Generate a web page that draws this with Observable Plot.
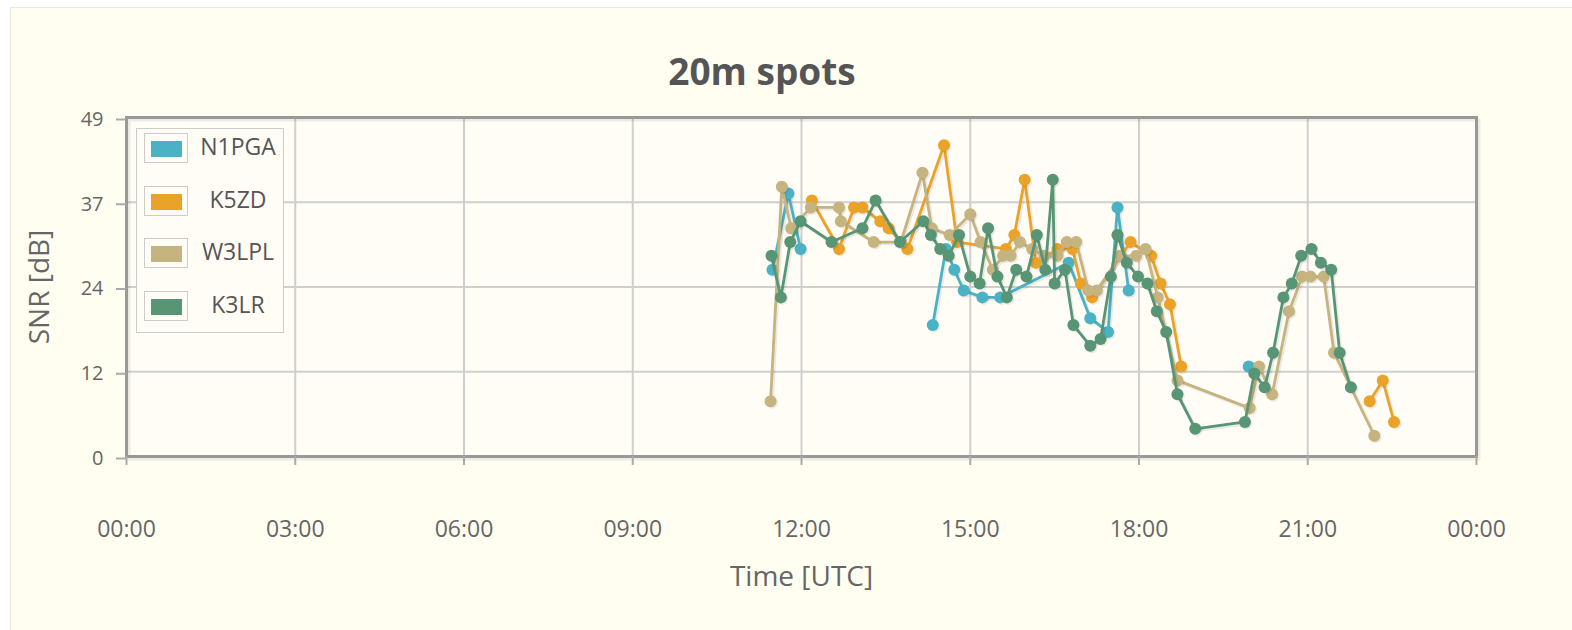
<!DOCTYPE html>
<html><head><meta charset="utf-8">
<script src="https://cdn.jsdelivr.net/npm/d3@7"></script>
<script src="https://cdn.jsdelivr.net/npm/@observablehq/plot@0.6"></script>
<style>
body{margin:0;background:#fff;font-family:"Open Sans",sans-serif;}
#bg{position:absolute;left:10px;top:7px;width:1562px;height:623px;background:#fffef1;border-left:1px solid #ece8d8;border-top:1px solid #ece8d8;}
#title{position:absolute;left:0;top:46px;width:1524px;text-align:center;font-weight:bold;font-size:37px;color:#555;line-height:50px;}
#chart{position:absolute;left:0;top:0;}
#legend{position:absolute;left:136px;top:128px;width:146px;height:203px;border:1px solid #ccc;background:#fffdf6;}
.row{position:absolute;left:7px;height:30px;width:136px;}
.sw{position:absolute;left:0;top:0;width:42px;height:28px;border:1px solid #ccc;}
.sw div{position:absolute;left:6px;top:7px;width:31px;height:16px;}
.lab{position:absolute;left:52px;top:-2px;width:84px;text-align:center;font-size:23px;color:#555;line-height:30px;}
</style>
</head><body>
<div id="bg"></div>
<div id="chart"></div>
<div id="title">20m spots</div>
<div id="legend"></div>
<script>
// ---- data ----
const seriesNames = ["N1PGA", "K5ZD", "W3LPL", "K3LR"];

const n1pgaTimes = ["11:29","11:46","11:59","14:20","14:34","14:43","14:53","15:13","15:32","16:45","17:08","17:27","17:37","17:49","19:57"];
const n1pgaSnr   = [27, 38, 30, 19, 30, 27, 24, 23, 23, 28, 20, 18, 36, 24, 13];

const k5zdTimes = ["12:11","12:40","12:56","13:05","13:24","13:33","13:53","14:32","14:46","15:38","15:47","15:58","16:10","16:33","16:49","16:58","17:10","17:51","18:13","18:23","18:33","18:45","22:06","22:20","22:32"];
const k5zdSnr   = [37, 30, 36, 36, 34, 33, 30, 45, 31, 30, 32, 40, 28, 30, 30, 25, 23, 31, 29, 25, 22, 13, 8, 11, 5];

const w3lplTimes = ["11:27","11:39","11:49","12:10","12:40","12:42","13:17","13:46","14:09","14:19","14:38","15:00","15:11","15:24","15:35","15:43","15:53","16:06","16:19","16:33","16:43","16:53","17:06","17:15","17:40","17:57","18:07","18:20","18:41","19:58","20:08","20:22","20:40","20:54","21:03","21:17","21:28","22:11"];
const w3lplSnr   = [8, 39, 33, 36, 36, 34, 31, 31, 41, 33, 32, 35, 31, 27, 29, 29, 31, 30, 29, 29, 31, 31, 24, 24, 29, 29, 30, 23, 11, 7, 13, 9, 21, 26, 26, 26, 15, 3];

const k3lrTimes = ["11:28","11:38","11:48","11:59","12:32","13:05","13:19","13:45","14:10","14:18","14:28","14:37","14:48","15:00","15:10","15:19","15:29","15:39","15:49","16:00","16:11","16:20","16:28","16:30","16:41","16:50","17:08","17:19","17:30","17:37","17:47","17:59","18:09","18:19","18:29","18:41","19:00","19:53","20:03","20:14","20:23","20:34","20:43","20:53","21:04","21:14","21:25","21:34","21:46"];
const k3lrSnr   = [29, 23, 31, 34, 31, 33, 37, 31, 34, 32, 30, 29, 32, 26, 25, 33, 26, 23, 27, 26, 32, 27, 40, 25, 27, 19, 16, 17, 26, 32, 28, 26, 25, 21, 18, 9, 4, 5, 12, 10, 15, 23, 25, 29, 30, 28, 27, 15, 10];

const yTickValues = [0, 12.25, 24.5, 36.75, 49];
const yTickLabels = ["0", "12", "24", "37", "49"];
const xLabel = "Time [UTC]";
const yLabel = "SNR [dB]";

// ---- styles ----
const seriesColors = ["#4bb2c5", "#EAA228", "#c5b47f", "#579575"];

const toDate = s => { const [h, m] = s.split(":").map(Number); return new Date(Date.UTC(2024, 0, 1, h, m)); };
const x0 = new Date(Date.UTC(2024, 0, 1, 0, 0));
const x1 = new Date(Date.UTC(2024, 0, 2, 0, 0));
const xTicks = d3.utcHour.every(3).range(x0, new Date(+x1 + 1));

const seriesData = [
  [n1pgaTimes, n1pgaSnr], [k5zdTimes, k5zdSnr], [w3lplTimes, w3lplSnr], [k3lrTimes, k3lrSnr]
].map(([ts, vs], i) => {
  let seg = 0, prev = null;
  return ts.map((s, j) => {
    const t = toDate(s);
    if (prev && (t - prev) > 100 * 60000) seg++;
    prev = t;
    return {series: seriesNames[i], t, v: vs[j], seg};
  });
});

const marks = [
  Plot.frame({fill: "#fffdf6"}),
  Plot.gridX(xTicks, {stroke: "#cfcfcf", strokeOpacity: 1, strokeWidth: 2}),
  Plot.gridY(yTickValues, {stroke: "#cfcfcf", strokeOpacity: 1, strokeWidth: 2}),
  Plot.frame({stroke: "#000", strokeOpacity: 0.07, strokeWidth: 3, dx: 2.5, dy: 2.5}),
  Plot.frame({stroke: "#999", strokeWidth: 3}),
  Plot.axisX({ticks: xTicks, tickFormat: d3.utcFormat("%H:%M"), tickSize: 9, tickPadding: 55,
    fontSize: 23, fill: "#666", stroke: "#aaa", strokeWidth: 2, label: null}),
  Plot.axisY({ticks: yTickValues, tickFormat: d => yTickLabels[yTickValues.indexOf(d)], tickSize: 10, tickPadding: 13,
    fontSize: 20, fill: "#666", stroke: "#aaa", strokeWidth: 2, label: null, dy: 2}),
  Plot.text([yLabel], {text: d => d, frameAnchor: "left", dx: -86, rotate: -90, textAnchor: "middle", lineAnchor: "middle", fontSize: 28, fill: "#666"}),
  Plot.text([xLabel], {text: d => d, frameAnchor: "bottom", dy: 121, textAnchor: "middle", lineAnchor: "middle", fontSize: 28, fill: "#666"})
];

seriesData.forEach((data, i) => {
  const c = seriesColors[i];
  marks.push(
    Plot.line(data, {x: "t", y: "v", z: "seg", stroke: "#000", strokeOpacity: 0.08, strokeWidth: 3.5, dx: 1.5, dy: 1.5}),
    Plot.line(data, {x: "t", y: "v", z: "seg", stroke: c, strokeWidth: 2.8}),
    Plot.dot(data, {x: "t", y: "v", r: 6, fill: "#000", fillOpacity: 0.08, dx: 1.5, dy: 1.5}),
    Plot.dot(data, {x: "t", y: "v", r: 6, fill: c})
  );
});

const chart = Plot.plot({
  width: 1572, height: 630,
  marginLeft: 126, marginRight: 96, marginTop: 117, marginBottom: 174,
  x: {type: "utc", domain: [x0, x1]},
  y: {domain: [0, 49]},
  style: {background: "transparent", fontFamily: "Open Sans, sans-serif"},
  marks
});
document.getElementById("chart").appendChild(chart);

// legend
const legend = document.getElementById("legend");
const rowTops = [4, 57, 109, 162];
seriesNames.forEach((name, i) => {
  const row = document.createElement("div");
  row.className = "row";
  row.style.top = rowTops[i] + "px";
  row.innerHTML = `<div class="sw"><div style="background:${seriesColors[i]}"></div></div><div class="lab">${name}</div>`;
  legend.appendChild(row);
});
</script>
</body></html>
